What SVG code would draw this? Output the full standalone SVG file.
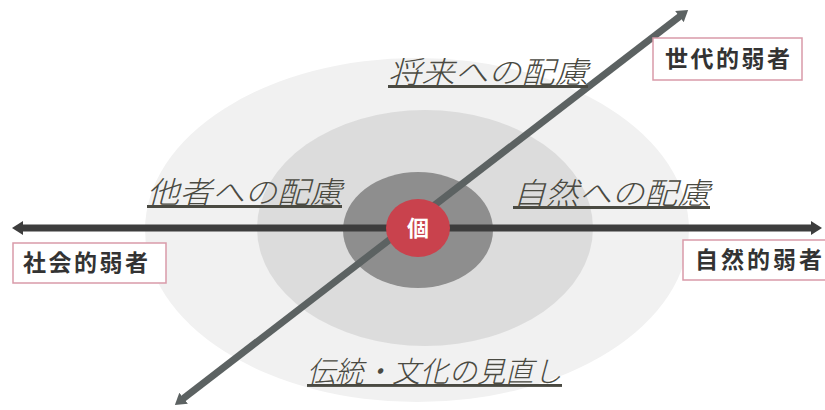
<svg xmlns="http://www.w3.org/2000/svg" width="825" height="410" viewBox="0 0 825 410">
  <style>
    .lbl { font-family: "Noto Sans CJK JP", "Noto Sans", sans-serif; font-style: italic; font-weight: 300; fill: #4a4a42; text-decoration: underline; }
    .box { fill: #ffffff; stroke: #d99aa9; stroke-width: 1.5; }
    .boxt { font-family: "Noto Sans CJK JP", "Noto Sans", sans-serif; font-weight: bold; font-size: 23px; fill: #333333; }
    .axis { fill: none; stroke-width: 7; }
  </style>
  <defs>
    <marker id="ahDark" markerUnits="userSpaceOnUse" markerWidth="12" markerHeight="14" refX="2" refY="7" orient="auto-start-reverse" viewBox="0 0 12 14">
      <path d="M0,0 L11,7 L0,14 z" fill="#3d3d3d"/>
    </marker>
    <marker id="ahGray" markerUnits="userSpaceOnUse" markerWidth="12" markerHeight="14" refX="2" refY="7" orient="auto-start-reverse" viewBox="0 0 12 14">
      <path d="M0,0 L11,7 L0,14 z" fill="#5c6262"/>
    </marker>
  </defs>
  <rect x="0" y="0" width="825" height="410" fill="#ffffff"/>

  <g id="ring-outer"><ellipse cx="417" cy="230" rx="272" ry="172" fill="#f1f1f1"/></g>
  <g id="ring-middle"><ellipse cx="425" cy="228" rx="168" ry="118" fill="#dcdcdc"/></g>
  <g id="ring-inner"><ellipse cx="418" cy="230" rx="75" ry="58" fill="#8e8e8e"/></g>

  <g id="connectors">
    <line class="axis" x1="21" y1="228" x2="813" y2="228" stroke="#3d3d3d" marker-start="url(#ahDark)" marker-end="url(#ahDark)"/>
    <line class="axis" x1="182" y1="399.5" x2="681" y2="15.4" stroke="#5c6262" marker-start="url(#ahGray)" marker-end="url(#ahGray)"/>
  </g>

  <g id="center">
    <ellipse cx="418" cy="228" rx="32" ry="29" fill="#c9424d"/>
    <text x="418" y="236" text-anchor="middle" font-family="Noto Sans CJK JP, sans-serif" font-weight="bold" font-size="22" fill="#ffffff">個</text>
  </g>

  <g id="label-future"><text class="lbl" x="388" y="83" font-size="30" textLength="200" lengthAdjust="spacingAndGlyphs">将来への配慮</text></g>
  <g id="label-others"><text class="lbl" x="147" y="203" font-size="30" textLength="195" lengthAdjust="spacingAndGlyphs">他者への配慮</text></g>
  <g id="label-nature"><text class="lbl" x="513" y="204" font-size="30" textLength="197" lengthAdjust="spacingAndGlyphs">自然への配慮</text></g>
  <g id="label-tradition"><text class="lbl" x="307" y="382" font-size="29" textLength="255" lengthAdjust="spacingAndGlyphs">伝統・文化の見直し</text></g>

  <g id="box-social">
    <rect class="box" x="13" y="243" width="153" height="40"/>
    <text class="boxt" x="23" y="271" textLength="125" lengthAdjust="spacing">社会的弱者</text>
  </g>
  <g id="box-nature">
    <rect class="box" x="683" y="240" width="150" height="40"/>
    <text class="boxt" x="695" y="268" textLength="127" lengthAdjust="spacing">自然的弱者</text>
  </g>
  <g id="box-generation">
    <rect class="box" x="653" y="38" width="149" height="42"/>
    <text class="boxt" x="665" y="67" textLength="125" lengthAdjust="spacing">世代的弱者</text>
  </g>
</svg>
